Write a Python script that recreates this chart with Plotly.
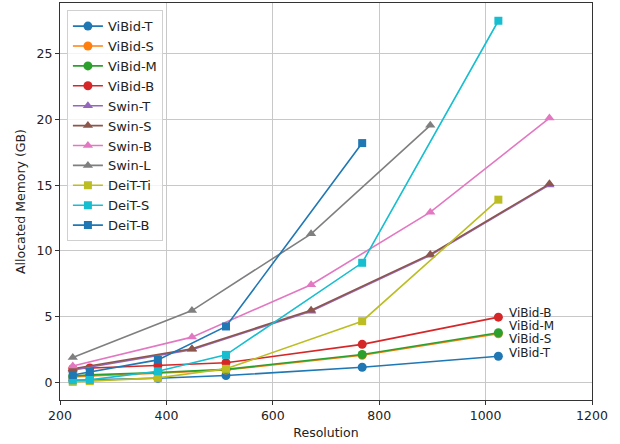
import plotly.graph_objects as go

res_vibid = [224, 256, 384, 512, 768, 1024]
vibid_t = [0.15, 0.2, 0.32, 0.53, 1.16, 2.0]
vibid_s = [0.42, 0.5, 0.7, 0.95, 2.07, 3.7]
vibid_m = [0.5, 0.58, 0.76, 1.0, 2.13, 3.78]
vibid_b = [1.05, 1.1, 1.3, 1.5, 2.9, 4.97]

res_swin = [224, 448, 672, 896, 1120]
swin_t = [0.95, 2.5, 5.42, 9.68, 15.02]
swin_s = [1.05, 2.56, 5.5, 9.74, 15.1]
swin_b = [1.25, 3.45, 7.43, 12.95, 20.1]
swin_l = [1.9, 5.47, 11.3, 19.55]

res_deit = [224, 256, 384, 512, 768, 1024]
deit_ti = [0.05, 0.1, 0.35, 1.04, 4.66, 13.9]
deit_s = [0.17, 0.2, 0.85, 2.1, 9.1, 27.5]
deit_b = [0.57, 0.8, 1.72, 4.26, 18.2]

label_names = ["ViBid-B", "ViBid-M", "ViBid-S", "ViBid-T"]
label_y = [5.28, 4.29, 3.30, 2.24]
label_x = 1040

series = [
    ("ViBid-T", res_vibid, vibid_t, "#1f77b4", "circle"),
    ("ViBid-S", res_vibid, vibid_s, "#ff7f0e", "circle"),
    ("ViBid-M", res_vibid, vibid_m, "#2ca02c", "circle"),
    ("ViBid-B", res_vibid, vibid_b, "#d62728", "circle"),
    ("Swin-T", res_swin, swin_t, "#9467bd", "triangle-up"),
    ("Swin-S", res_swin, swin_s, "#8c564b", "triangle-up"),
    ("Swin-B", res_swin, swin_b, "#e377c2", "triangle-up"),
    ("Swin-L", res_swin, swin_l, "#7f7f7f", "triangle-up"),
    ("DeiT-Ti", res_deit, deit_ti, "#bcbd22", "square"),
    ("DeiT-S", res_deit, deit_s, "#17becf", "square"),
    ("DeiT-B", res_deit, deit_b, "#1f77b4", "square"),
]

fig = go.Figure()
for name, xs, ys, color, sym in series:
    fig.add_trace(go.Scatter(
        x=xs[:len(ys)], y=ys, name=name, mode="lines+markers",
        line=dict(color=color, width=1.6),
        marker=dict(color=color, symbol=sym, size=9 if sym != "square" else 8,
                    line=dict(width=0)),
    ))

for n, yv in zip(label_names, label_y):
    fig.add_annotation(x=label_x, y=yv, text=n, showarrow=False,
                       xanchor="left", yanchor="middle",
                       font=dict(size=12, color="#222222"))

axis_common = dict(
    showgrid=True, gridcolor="#c8c8c8", gridwidth=1,
    showline=True, linecolor="#333333", linewidth=1, mirror=True,
    ticks="outside", ticklen=4, tickcolor="#333333",
    zeroline=False, tickfont=dict(size=12.5, color="#222222"),
)

fig.update_layout(
    width=620, height=444,
    margin=dict(l=60, r=28, t=3, b=44),
    plot_bgcolor="white", paper_bgcolor="white",
    font=dict(family="DejaVu Sans", size=12, color="#222222"),
    showlegend=True,
    legend=dict(x=0.013, y=0.982, xanchor="left", yanchor="top",
                bordercolor="#d0d0d0", borderwidth=1, bgcolor="rgba(255,255,255,0.8)",
                font=dict(size=13), tracegroupgap=0, itemwidth=30),
    xaxis=dict(range=[200, 1200], dtick=200,
               title=dict(text="Resolution", font=dict(size=12.5), standoff=6),
               **axis_common),
    yaxis=dict(range=[-1.33, 28.85], tickvals=[0, 5, 10, 15, 20, 25],
               title=dict(text="Allocated Memory (GB)", font=dict(size=12.5), standoff=8),
               **axis_common),
)

fig.write_html("out.html")
